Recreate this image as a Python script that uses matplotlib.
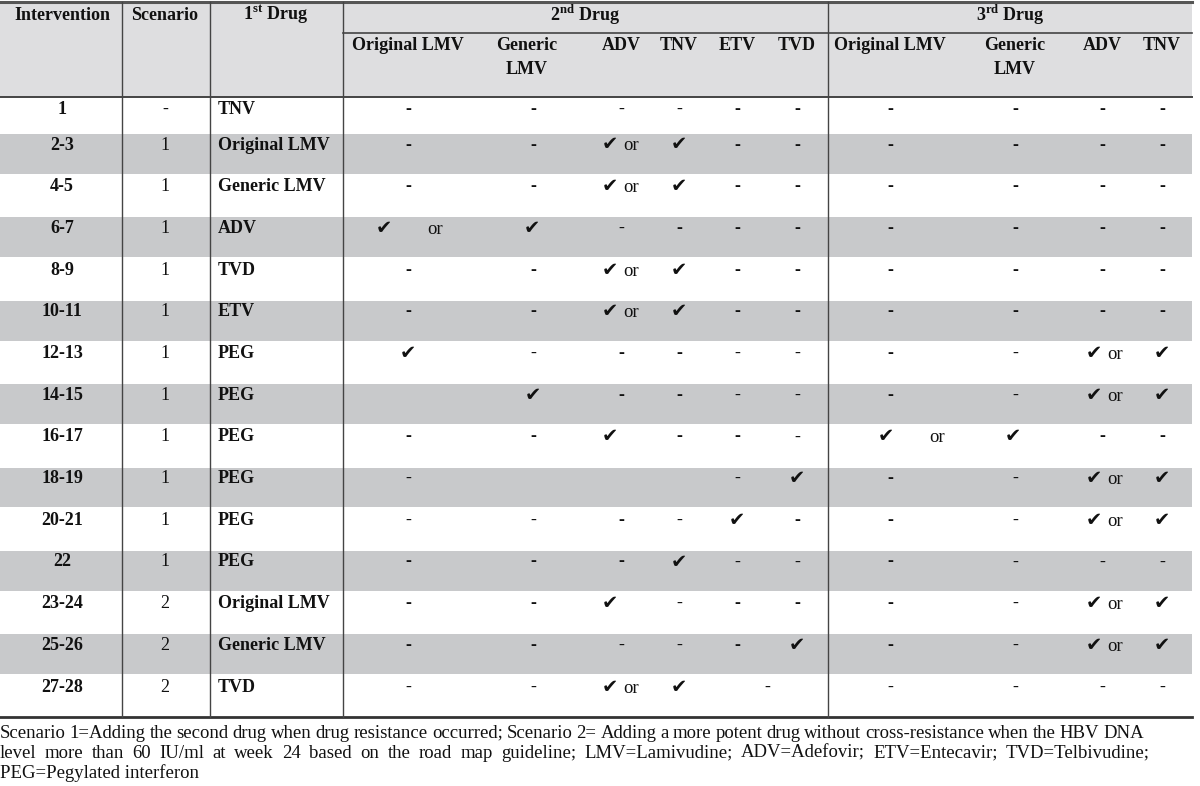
import matplotlib
matplotlib.use("Agg")
import matplotlib.pyplot as plt

plt.rcParams['font.family'] = ['Liberation Serif', 'DejaVu Sans']
plt.rcParams['mathtext.fontset'] = 'custom'
plt.rcParams['mathtext.rm'] = 'Liberation Serif'
plt.rcParams['mathtext.bf'] = 'Liberation Serif:bold'

# table content
interventions = ['1', '2-3', '4-5', '6-7', '8-9', '10-11', '12-13', '14-15',
                 '16-17', '18-19', '20-21', '22', '23-24', '25-26', '27-28']
scenarios = ['-', '1', '1', '1', '1', '1', '1', '1', '1', '1', '1', '1', '2', '2', '2']
first_drug = ['TNV', 'Original LMV', 'Generic LMV', 'ADV', 'TVD', 'ETV', 'PEG', 'PEG',
              'PEG', 'PEG', 'PEG', 'PEG', 'Original LMV', 'Generic LMV', 'TVD']
second_cols = ['Original LMV', 'Generic\nLMV', 'ADV', 'TNV', 'ETV', 'TVD']
third_cols = ['Original LMV', 'Generic\nLMV', 'ADV', 'TNV']

# B = bold dash, R = plain dash, C = check, CO = "check or", COC = "check or check" over two cells,
# RS = plain dash over two cells, '' = empty
second_drug = [
    ['B', 'B', 'R', 'R', 'B', 'B'],
    ['B', 'B', 'CO', 'C', 'B', 'B'],
    ['B', 'B', 'CO', 'C', 'B', 'B'],
    ['COC', '', 'R', 'B', 'B', 'B'],
    ['B', 'B', 'CO', 'C', 'B', 'B'],
    ['B', 'B', 'CO', 'C', 'B', 'B'],
    ['C', 'R', 'B', 'B', 'R', 'R'],
    ['', 'C', 'B', 'B', 'R', 'R'],
    ['B', 'B', 'C', 'B', 'B', 'R'],
    ['R', '', '', '', 'R', 'C'],
    ['R', 'R', 'B', 'R', 'C', 'B'],
    ['B', 'B', 'B', 'C', 'R', 'R'],
    ['B', 'B', 'C', 'R', 'B', 'B'],
    ['B', 'B', 'R', 'R', 'B', 'C'],
    ['R', 'R', 'CO', 'C', 'RS', ''],
]
third_drug = [
    ['B', 'B', 'B', 'B'],
    ['B', 'B', 'B', 'B'],
    ['B', 'B', 'B', 'B'],
    ['B', 'B', 'B', 'B'],
    ['B', 'B', 'B', 'B'],
    ['B', 'B', 'B', 'B'],
    ['B', 'R', 'CO', 'C'],
    ['B', 'R', 'CO', 'C'],
    ['COC', '', 'B', 'B'],
    ['B', 'R', 'CO', 'C'],
    ['B', 'R', 'CO', 'C'],
    ['B', 'R', 'R', 'R'],
    ['B', 'R', 'CO', 'C'],
    ['B', 'R', 'CO', 'C'],
    ['R', 'R', 'R', 'R'],
]
footnote = [
    "Scenario 1=Adding the second drug when drug resistance occurred; Scenario 2= Adding a more potent drug "
    "without cross-resistance when the HBV DNA",
    "level more than 60 IU/ml at week 24 based on the road map guideline; LMV=Lamivudine;  ADV=Adefovir;  "
    "ETV=Entecavir;  TVD=Telbivudine;",
    "PEG=Pegylated interferon",
]

# layout (pixels)
W, H = 1200, 786
table_right = 1192
vlines = [122, 210, 343, 828]
second_x = [408, 533, 621, 679, 737, 797]
third_x = [890, 1015, 1102, 1162]
second_hdr_x = [408, 527, 621, 679, 737, 797]
adv_anchor = {'2nd': 602, '3rd': 1086}
span_pos = {'2nd': (384, 435, 532), '3rd': (886, 937, 1013)}
row_tops = [97] + [133 + 41.7 * k for k in range(14)]
row_bottom = 717
fs = 13
ink = '#111111'
CHECK = '\u2714'

fig = plt.figure(figsize=(12, 7.86), dpi=100)
ax = fig.add_axes([0, 0, 1, 1])
ax.set_xlim(0, W)
ax.set_ylim(H, 0)
ax.axis('off')

# backgrounds
ax.add_patch(plt.Rectangle((0, 2), table_right, 95, color='#dedee0', lw=0, zorder=0))
for i, top in enumerate(row_tops):
    bottom = row_tops[i + 1] if i + 1 < len(row_tops) else row_bottom
    if i % 2 == 1:
        ax.add_patch(plt.Rectangle((0, top + 1), table_right, bottom - top - 2,
                                   color='#c8c9cb', lw=0, zorder=0))

# rules
ax.plot([0, table_right], [2, 2], color='#555555', lw=2.2)
ax.plot([0, table_right], [97, 97], color='#444444', lw=1.4)
ax.plot([343, table_right], [33, 33], color='#444444', lw=1.2)
ax.plot([0, table_right], [row_bottom, row_bottom], color='#333333', lw=2.0)
for x in vlines:
    ax.plot([x, x], [2, row_bottom], color='#444444', lw=1.0)

# header
hdr = dict(fontsize=fs, fontweight='bold', color=ink, va='center')
ax.text(62, 15, 'Intervention', ha='center', **hdr)
ax.text(165, 15, 'Scenario', ha='center', **hdr)
ax.text(276, 15, r'1$^{\mathbf{st}}$ Drug', ha='center', **hdr)
ax.text(585, 15, r'2$^{\mathbf{nd}}$ Drug', ha='center', **hdr)
ax.text(1010, 15, r'3$^{\mathbf{rd}}$ Drug', ha='center', **hdr)
for x, lab in zip(second_hdr_x, second_cols):
    ax.text(x, 37, lab, ha='center', va='top', fontsize=fs, fontweight='bold',
            color=ink, linespacing=1.55)
for x, lab in zip(third_x, third_cols):
    ax.text(x, 37, lab, ha='center', va='top', fontsize=fs, fontweight='bold',
            color=ink, linespacing=1.55)


def check(x, y, ha='center'):
    ax.text(x, y, CHECK, ha=ha, va='center', fontsize=14, color=ink,
            family=['DejaVu Sans'])


def draw_cell(code, j, xs, group, y):
    if code == 'B':
        ax.text(xs[j], y, '-', ha='center', va='center', fontsize=fs, fontweight='bold', color=ink)
    elif code == 'R':
        ax.text(xs[j], y, '-', ha='center', va='center', fontsize=fs, color=ink)
    elif code == 'RS':
        ax.text((xs[j] + xs[j + 1]) / 2, y, '-', ha='center', va='center', fontsize=fs, color=ink)
    elif code == 'C':
        if j == 2:
            check(adv_anchor[group], y, ha='left')
        else:
            check(xs[j], y)
    elif code == 'CO':
        check(adv_anchor[group], y, ha='left')
        ax.text(adv_anchor[group] + 21, y + 1, 'or', ha='left', va='center', fontsize=13.5, color=ink)
    elif code == 'COC':
        a, b, c = span_pos[group]
        check(a, y)
        ax.text(b, y + 1, 'or', ha='center', va='center', fontsize=13.5, color=ink)
        check(c, y)


for i, top in enumerate(row_tops):
    y = top + 12
    ax.text(62, y, interventions[i], ha='center', va='center', fontsize=fs, fontweight='bold', color=ink)
    ax.text(165, y, scenarios[i], ha='center', va='center', fontsize=fs, color=ink)
    ax.text(218, y, first_drug[i], ha='left', va='center', fontsize=fs, fontweight='bold', color=ink)
    for j, code in enumerate(second_drug[i]):
        draw_cell(code, j, second_x, '2nd', y)
    for j, code in enumerate(third_drug[i]):
        draw_cell(code, j, third_x, '3rd', y)

# footnote, first two lines justified
renderer = fig.canvas.get_renderer()
foot_y = [733, 753, 773]
for k, line in enumerate(footnote):
    if k == len(footnote) - 1:
        ax.text(0, foot_y[k], line, ha='left', va='center', fontsize=13.5, color=ink)
        continue
    words = line.split()
    texts = [ax.text(0, foot_y[k], w, ha='left', va='center', fontsize=13.5, color=ink) for w in words]
    widths = [t.get_window_extent(renderer).width for t in texts]
    right = 1144 if k == 0 else 1150
    gap = (right - sum(widths)) / (len(words) - 1)
    x = 0
    for t, w in zip(texts, widths):
        t.set_x(x)
        x += w + gap

fig.savefig('out.png', dpi=100, facecolor='white')
